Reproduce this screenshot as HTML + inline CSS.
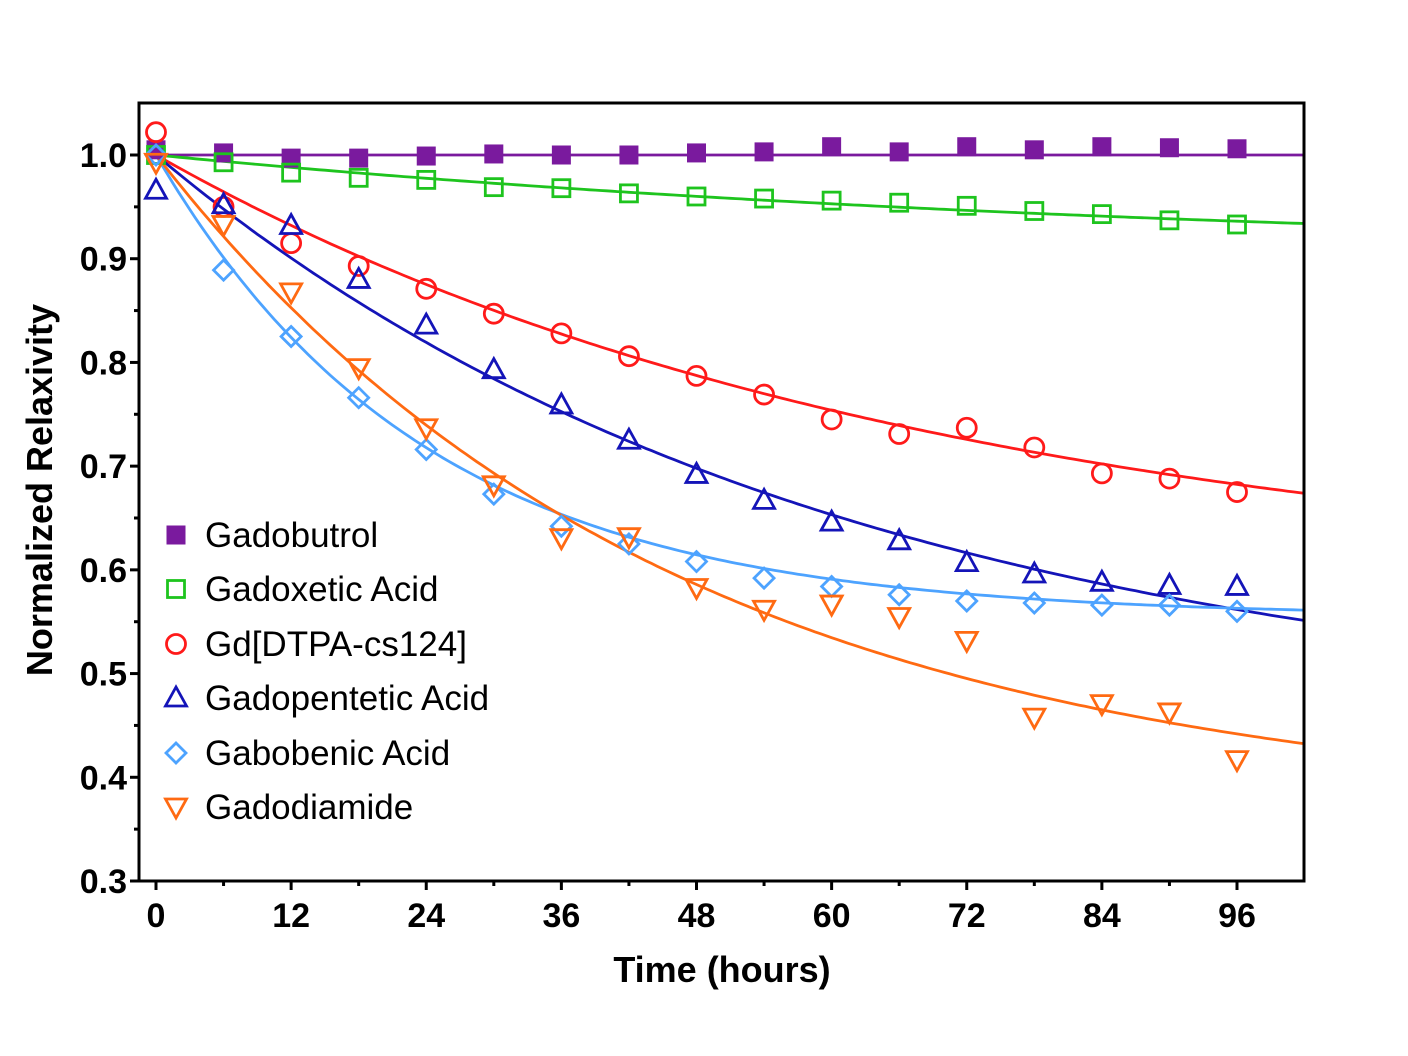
<!DOCTYPE html>
<html><head><meta charset="utf-8"><style>
html,body{margin:0;padding:0;background:#fff;}
svg{display:block;font-family:"Liberation Sans",Arial,sans-serif;}
</style></head><body>
<svg id="chart" width="1408" height="1056" viewBox="0 0 1408 1056" xmlns="http://www.w3.org/2000/svg">
<g id="curves"></g>
<g id="marks"></g>
<g id="axes"></g>
<g id="legend"></g>
</svg>
<script>
const times = [0,6,12,18,24,30,36,42,48,54,60,66,72,78,84,90,96];
const gadobutrol = [1.005,1.002,0.997,0.997,0.999,1.001,1.0,1.0,1.002,1.003,1.008,1.003,1.008,1.005,1.008,1.007,1.006];
const gadoxetic = [1.0,0.993,0.983,0.978,0.976,0.969,0.968,0.963,0.960,0.958,0.956,0.954,0.951,0.946,0.943,0.937,0.933];
const gdDtpa = [1.022,0.950,0.915,0.893,0.871,0.847,0.828,0.806,0.787,0.769,0.745,0.731,0.737,0.718,0.693,0.688,0.675];
const gadopentetic = [0.966,0.952,0.932,0.880,0.836,0.793,0.759,0.725,0.692,0.667,0.646,0.628,0.607,0.596,0.588,0.585,0.584];
const gabobenic = [1.0,0.889,0.825,0.766,0.716,0.673,0.642,0.625,0.608,0.592,0.584,0.576,0.570,0.568,0.566,0.566,0.560];
const gadodiamide = [0.993,0.933,0.868,0.795,0.737,0.682,0.631,0.632,0.583,0.562,0.567,0.555,0.532,0.458,0.471,0.463,0.417];
const seriesNames = ["Gadobutrol","Gadoxetic Acid","Gd[DTPA-cs124]","Gadopentetic Acid","Gabobenic Acid","Gadodiamide"];
const fitPlateau = [1.0,0.9,0.58,0.45,0.555,0.365];
const fitRate = [0,0.0106,0.0147,0.0166,0.0419,0.022];
const xTicks = [0,12,24,36,48,60,72,84,96];
const yTicks = [0.3,0.4,0.5,0.6,0.7,0.8,0.9,1.0];

const NS="http://www.w3.org/2000/svg";
const X0=139,X1=1304,Y0=103,Y1=881;
const xMax=102;
function xs(t){return 156+(t-0)*(1237-156)/96;}
function ys(v){return 881-(v-0.3)*(881-155)/0.7;}
function mk(tag,attrs,parent){const e=document.createElementNS(NS,tag);for(const k in attrs)e.setAttribute(k,attrs[k]);parent.appendChild(e);return e;}
const colors=["#7A1A9E","#1EC41E","#FF1A1A","#1414B8","#4DA3FF","#FF6A12"];
const data=[gadobutrol,gadoxetic,gdDtpa,gadopentetic,gabobenic,gadodiamide];
const shapes=["fsquare","square","circle","tri","diamond","dtri"];

function marker(shape,cx,cy,col,parent){
  let e;const s=9.5;
  if(shape==="fsquare") e=mk("rect",{x:cx-s,y:cy-s,width:2*s,height:2*s,fill:col},parent);
  else if(shape==="square") e=mk("rect",{x:cx-s+1,y:cy-s+1,width:2*s-2,height:2*s-2,fill:"none",stroke:col,"stroke-width":2.8},parent);
  else if(shape==="circle") e=mk("circle",{cx:cx,cy:cy,r:s,fill:"none",stroke:col,"stroke-width":2.8},parent);
  else if(shape==="tri") e=mk("polygon",{points:`${cx},${cy-11} ${cx-10.5},${cy+8} ${cx+10.5},${cy+8}`,fill:"none",stroke:col,"stroke-width":2.8},parent);
  else if(shape==="dtri") e=mk("polygon",{points:`${cx},${cy+11} ${cx-10.5},${cy-8} ${cx+10.5},${cy-8}`,fill:"none",stroke:col,"stroke-width":2.8},parent);
  else e=mk("polygon",{points:`${cx},${cy-10} ${cx+10},${cy} ${cx},${cy+10} ${cx-10},${cy}`,fill:"none",stroke:col,"stroke-width":2.8},parent);
  return e;
}

const curves=document.getElementById("curves");
const marks=document.getElementById("marks");
for(let i=0;i<6;i++){
  let d="";
  for(let t=0;t<=xMax;t+=0.5){
    const v=fitPlateau[i]+(1-fitPlateau[i])*Math.exp(-fitRate[i]*t);
    d+=(t===0?"M":"L")+xs(t).toFixed(1)+","+ys(v).toFixed(1);
  }
  const p=mk("path",{d:d,fill:"none",stroke:colors[i],"stroke-width":2.8},curves);
  
  
  for(let j=0;j<times.length;j++){
    const m=marker(shapes[i],xs(times[j]),ys(data[i][j]),colors[i],marks);
    
    
  }
}

const axes=document.getElementById("axes");
const frame=mk("rect",{x:X0,y:Y0,width:X1-X0,height:Y1-Y0,fill:"none",stroke:"#000","stroke-width":3},axes);


for(let v=0.3;v<=1.0001;v+=0.05){
  const major=Math.abs(v*10-Math.round(v*10))<1e-6;
  mk("line",{x1:X0-(major?9:5),x2:X0,y1:ys(v),y2:ys(v),stroke:"#000","stroke-width":3},axes);
}
yTicks.forEach(v=>{
  const t=mk("text",{x:X0-12,y:ys(v)+12,"text-anchor":"end","font-size":34,"font-weight":"bold"},axes);
  t.textContent=v.toFixed(1);
  
  
});
for(let h=0;h<=96;h+=6){
  const major=h%12===0;
  mk("line",{x1:xs(h),x2:xs(h),y1:Y1,y2:Y1+(major?9:5),stroke:"#000","stroke-width":3},axes);
}
xTicks.forEach(h=>{
  const t=mk("text",{x:xs(h),y:Y1+46,"text-anchor":"middle","font-size":34,"font-weight":"bold"},axes);
  t.textContent=h;
  
  
});
const xt=mk("text",{x:722,y:982,"text-anchor":"middle","font-size":36,"font-weight":"bold"},axes);
xt.textContent="Time (hours)";


const yt=mk("text",{x:0,y:0,"text-anchor":"middle","font-size":36,"font-weight":"bold",transform:"translate(52,490) rotate(-90)"},axes);
yt.textContent="Normalized Relaxivity";



const legend=document.getElementById("legend");
const ly=[535,589,644,698,753,807];
for(let i=0;i<6;i++){
  const m=marker(shapes[i],176,ly[i],colors[i],legend);
  
  
  const t=mk("text",{x:205,y:ly[i]+12,"font-size":35},legend);
  t.textContent=seriesNames[i];
  
  
}
</script>
</body></html>
